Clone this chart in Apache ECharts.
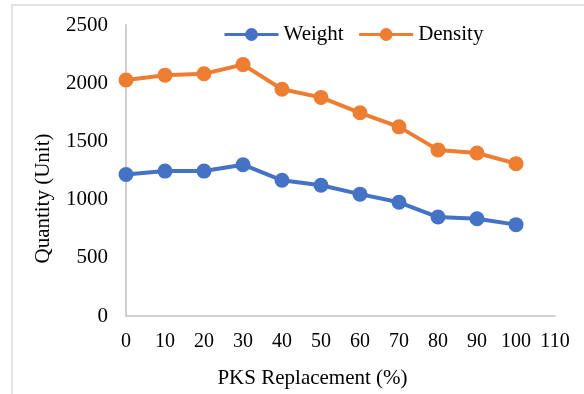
<!DOCTYPE html>
<html>
<head>
<meta charset="utf-8">
<script src="https://cdn.jsdelivr.net/npm/echarts@6/dist/echarts.min.js"></script>
<style>html,body{margin:0;padding:0;background:#fff}#c{width:584px;height:394px}</style>
</head>
<body>
<div id="c"></div>
<script>
var xValues = [0, 10, 20, 30, 40, 50, 60, 70, 80, 90, 100];
var weight = [1216, 1245, 1245, 1300, 1166, 1123, 1047, 977, 850, 836, 785];
var density = [2027, 2069, 2081, 2160, 1948, 1878, 1746, 1625, 1427, 1400, 1309];
var seriesNames = ['Weight', 'Density'];
var xTitle = 'PKS Replacement (%)';
var yTitle = 'Quantity (Unit)';

function pairs(xs, ys) { return xs.map(function (x, i) { return [x, ys[i]]; }); }

var FONT = '"Liberation Serif", "Times New Roman", serif';
var chart = echarts.init(document.getElementById('c'), null, { renderer: 'canvas' });
chart.setOption({
  animation: false,
  textStyle: { fontFamily: FONT, color: '#000' },
  graphic: [{
    type: 'rect', silent: true,
    shape: { x: 12, y: 5, width: 640, height: 440 },
    style: { fill: 'none', stroke: '#E3E3E3', lineWidth: 2 }
  }],
  grid: { left: 126, right: 29, top: 25, bottom: 73 },
  legend: {
    left: 218, top: 19,
    itemWidth: 54, itemHeight: 16, itemGap: 14,
    lineStyle: { width: 3 },
    textStyle: { fontFamily: FONT, fontSize: 21, color: '#000' },
    data: seriesNames
  },
  xAxis: {
    type: 'value', min: 0, max: 110, interval: 10,
    name: xTitle, nameLocation: 'middle', nameGap: 52,
    nameTextStyle: { fontFamily: FONT, fontSize: 21, color: '#000', padding: [0, 56, 0, 0] },
    axisLine: { show: true, lineStyle: { color: '#D0D0D0', width: 2 } },
    axisTick: { show: false },
    splitLine: { show: false },
    axisLabel: { margin: 16, fontFamily: FONT, fontSize: 20, color: '#000' }
  },
  yAxis: {
    type: 'value', min: 0, max: 2500, interval: 500,
    name: yTitle, nameLocation: 'middle', nameGap: 72,
    nameTextStyle: { fontFamily: FONT, fontSize: 21, color: '#000', padding: [0, 56, 0, 0] },
    axisLine: { show: true, lineStyle: { color: '#D0D0D0', width: 2 } },
    axisTick: { show: false },
    splitLine: { show: false },
    axisLabel: { margin: 18, fontFamily: FONT, fontSize: 21, color: '#000',
      formatter: function (v) { return String(v); } }
  },
  series: [{
    name: seriesNames[0], type: 'line', data: pairs(xValues, weight),
    symbol: 'circle', symbolSize: 15,
    itemStyle: { color: '#4472C4' },
    lineStyle: { color: '#4472C4', width: 4 }
  }, {
    name: seriesNames[1], type: 'line', data: pairs(xValues, density),
    symbol: 'circle', symbolSize: 15,
    itemStyle: { color: '#ED7D31' },
    lineStyle: { color: '#ED7D31', width: 4 }
  }]
});
</script>
</body>
</html>
